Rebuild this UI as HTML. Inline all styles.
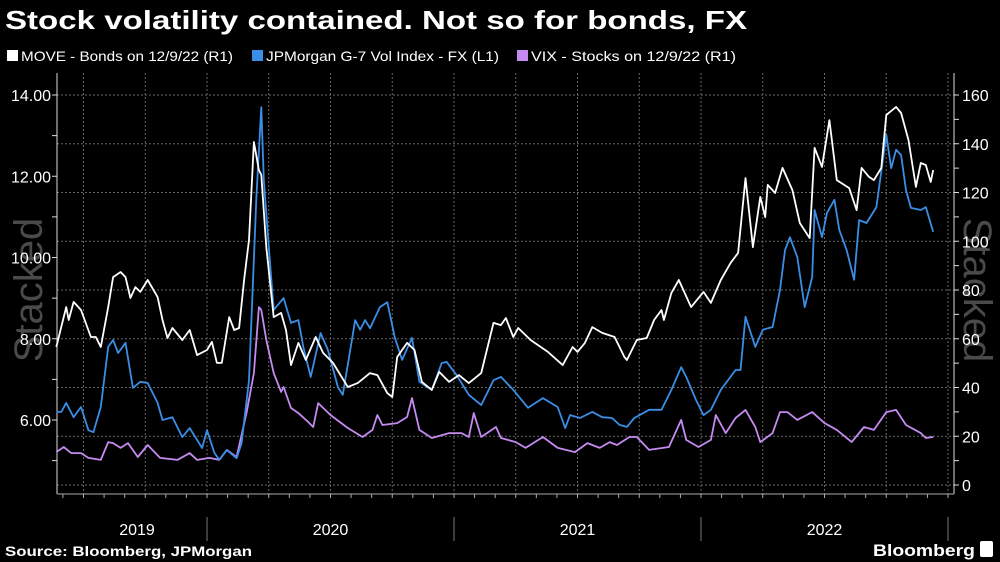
<!DOCTYPE html>
<html><head><meta charset="utf-8"><style>
html,body{margin:0;padding:0;background:#000;}
svg{display:block;font-family:"Liberation Sans",sans-serif;}
</style></head><body>
<svg id="chart" width="1000" height="562" viewBox="0 0 1000 562" xmlns="http://www.w3.org/2000/svg">
<rect x="0" y="0" width="1000" height="562" fill="#000"/>
<text x="5" y="29" fill="#fff" font-size="26" font-weight="bold" textLength="742" lengthAdjust="spacingAndGlyphs">Stock volatility contained. Not so for bonds, FX</text>
<g font-size="14" fill="#fff">
<g><rect x="7" y="50" width="11" height="11" fill="#fff"/><text x="21" y="61" textLength="212" lengthAdjust="spacingAndGlyphs">MOVE - Bonds on 12/9/22 (R1)</text></g>
<g><rect x="252" y="50" width="11" height="11" fill="#3a8ee6"/><text x="266" y="61" textLength="233" lengthAdjust="spacingAndGlyphs">JPMorgan G-7 Vol Index - FX (L1)</text></g>
<g><rect x="517" y="50" width="11" height="11" fill="#c58af0"/><text x="531" y="61" textLength="205" lengthAdjust="spacingAndGlyphs">VIX - Stocks on 12/9/22 (R1)</text></g>
</g>
<text transform="translate(42,290) rotate(-90)" text-anchor="middle" font-size="40" fill="#4a4a4a">Stacked</text>
<text transform="translate(964,290) rotate(90)" text-anchor="middle" font-size="40" fill="#4a4a4a">Stacked</text>
<g id="grid"></g>
<g id="axes"></g>
<g id="series"></g>
<text x="5" y="556" fill="#fff" font-size="14" font-weight="bold" textLength="247" lengthAdjust="spacingAndGlyphs">Source: Bloomberg, JPMorgan</text>
<text x="873" y="556" fill="#fff" font-size="17" font-weight="bold" textLength="102" lengthAdjust="spacingAndGlyphs">Bloomberg</text>
<rect x="980" y="541" width="13" height="16" rx="2" fill="#fff"/>
</svg>
<script>
const moveDates=[2019.39,2019.43,2019.44,2019.46,2019.49,2019.53,2019.55,2019.57,2019.60,2019.62,2019.65,2019.67,2019.69,2019.71,2019.73,2019.76,2019.80,2019.82,2019.84,2019.86,2019.90,2019.93,2019.96,2020.00,2020.02,2020.04,2020.06,2020.09,2020.11,2020.13,2020.15,2020.17,2020.19,2020.21,2020.22,2020.24,2020.27,2020.30,2020.32,2020.34,2020.37,2020.40,2020.44,2020.47,2020.51,2020.57,2020.61,2020.66,2020.69,2020.73,2020.75,2020.77,2020.81,2020.84,2020.87,2020.91,2020.94,2020.98,2021.02,2021.06,2021.11,2021.16,2021.19,2021.21,2021.24,2021.26,2021.31,2021.38,2021.44,2021.48,2021.50,2021.53,2021.56,2021.60,2021.65,2021.69,2021.70,2021.74,2021.78,2021.81,2021.84,2021.85,2021.88,2021.91,2021.96,2022.01,2022.04,2022.08,2022.12,2022.15,2022.18,2022.21,2022.24,2022.26,2022.27,2022.30,2022.33,2022.37,2022.40,2022.44,2022.46,2022.49,2022.52,2022.55,2022.60,2022.63,2022.65,2022.68,2022.70,2022.73,2022.75,2022.79,2022.81,2022.84,2022.87,2022.89,2022.91,2022.93,2022.94];
const moveValues=[56.6,73.0,67.7,75.1,71.8,60.7,60.7,56.6,73.0,85.3,87.4,85.3,76.7,81.2,79.2,84.1,77.1,67.7,60.3,64.4,59.5,63.6,53.3,55.4,58.7,50.1,50.1,68.9,63.6,64.4,84.1,100.5,140.7,129.2,127.2,97.6,68.9,70.6,63.6,49.2,58.3,51.3,60.7,54.2,50.1,40.2,41.8,45.9,45.1,37.7,36.1,52.5,58.3,55.4,42.3,39.0,46.4,42.3,45.1,41.8,45.9,66.5,65.6,68.5,60.7,64.4,59.5,54.6,49.2,56.6,54.6,58.3,64.8,62.4,60.7,52.5,51.3,59.5,60.3,67.7,71.8,67.7,78.8,84.1,73.0,79.2,74.7,84.1,91.1,95.2,125.9,97.6,118.2,109.9,123.1,119.8,130.1,121.0,107.5,101.3,138.3,130.5,149.7,125.1,121.8,112.8,130.1,126.4,125.1,130.1,151.8,155.1,152.6,141.5,122.3,132.1,131.3,124.3,129.2];
const fxDates=[2019.39,2019.41,2019.43,2019.46,2019.49,2019.52,2019.54,2019.57,2019.60,2019.62,2019.64,2019.67,2019.70,2019.73,2019.76,2019.80,2019.82,2019.86,2019.90,2019.93,2019.98,2020.00,2020.03,2020.05,2020.08,2020.12,2020.14,2020.17,2020.20,2020.22,2020.23,2020.25,2020.27,2020.31,2020.34,2020.37,2020.39,2020.42,2020.46,2020.49,2020.53,2020.55,2020.60,2020.62,2020.64,2020.66,2020.70,2020.73,2020.76,2020.79,2020.83,2020.86,2020.91,2020.95,2020.97,2021.01,2021.06,2021.11,2021.16,2021.19,2021.24,2021.30,2021.36,2021.42,2021.45,2021.47,2021.51,2021.56,2021.60,2021.64,2021.67,2021.70,2021.73,2021.79,2021.84,2021.88,2021.92,2021.94,2021.98,2022.01,2022.04,2022.08,2022.14,2022.16,2022.18,2022.22,2022.25,2022.29,2022.32,2022.34,2022.36,2022.39,2022.42,2022.45,2022.46,2022.49,2022.51,2022.54,2022.56,2022.59,2022.62,2022.64,2022.67,2022.71,2022.75,2022.77,2022.79,2022.81,2022.83,2022.85,2022.89,2022.91,2022.94];
const fxValues=[6.20,6.20,6.42,6.07,6.32,5.75,5.70,6.32,7.80,7.97,7.65,7.90,6.79,6.94,6.91,6.42,6.00,6.07,5.58,5.80,5.31,5.75,5.19,5.02,5.26,5.06,5.43,6.98,11.49,13.70,11.91,10.26,8.71,9.00,8.39,8.46,7.80,7.06,8.14,7.72,6.81,6.62,8.46,8.22,8.46,8.26,8.78,8.90,8.04,7.48,8.02,6.94,6.74,7.40,7.43,7.11,6.62,6.37,6.98,7.06,6.74,6.30,6.54,6.32,5.80,6.12,6.05,6.20,6.07,6.05,5.88,5.83,6.05,6.25,6.25,6.74,7.30,7.06,6.49,6.12,6.25,6.74,7.23,7.23,8.54,7.80,8.22,8.29,9.20,10.18,10.50,10.01,8.78,9.52,11.17,10.50,11.10,11.42,10.68,10.18,9.45,10.92,10.85,11.24,13.02,12.20,12.65,12.52,11.66,11.22,11.17,11.24,10.63];
const vixDates=[2019.39,2019.42,2019.45,2019.49,2019.52,2019.57,2019.60,2019.62,2019.65,2019.68,2019.72,2019.76,2019.81,2019.88,2019.93,2019.96,2020.01,2020.05,2020.08,2020.12,2020.16,2020.19,2020.21,2020.22,2020.24,2020.27,2020.30,2020.31,2020.34,2020.37,2020.41,2020.43,2020.45,2020.50,2020.57,2020.63,2020.67,2020.69,2020.71,2020.77,2020.81,2020.83,2020.86,2020.91,2020.98,2021.03,2021.06,2021.08,2021.11,2021.17,2021.19,2021.25,2021.29,2021.36,2021.42,2021.49,2021.54,2021.59,2021.63,2021.66,2021.71,2021.74,2021.79,2021.87,2021.92,2021.94,2021.99,2022.04,2022.06,2022.10,2022.14,2022.18,2022.22,2022.24,2022.29,2022.32,2022.35,2022.39,2022.45,2022.50,2022.55,2022.61,2022.66,2022.70,2022.75,2022.79,2022.83,2022.89,2022.91,2022.94];
const vixValues=[13.5,15.6,13.1,13.1,11.1,10.3,17.6,17.2,15.2,17.2,11.5,16.4,11.1,10.3,13.1,10.3,11.1,10.3,14.4,11.5,29.5,45.9,73.0,71.8,59.5,45.9,38.2,40.2,31.6,29.5,25.8,23.8,33.6,28.7,23.4,19.7,22.6,28.7,24.6,25.4,27.9,35.7,22.6,19.3,21.3,21.3,19.7,29.5,19.7,23.8,19.3,17.6,15.2,19.7,15.2,13.5,17.2,15.2,17.6,16.4,19.7,19.7,14.4,15.6,26.7,18.5,15.6,18.5,28.7,21.3,27.5,30.8,23.8,17.6,21.3,29.9,29.9,26.7,29.9,25.4,22.6,17.6,23.8,22.6,29.9,30.8,24.6,21.3,19.3,19.7];
const leftTicks=[6,8,10,12,14];
const leftTickLabels=["6.00","8.00","10.00","12.00","14.00"];
const rightTicks=[0,20,40,60,80,100,120,140,160];
const yearLabels=["2019","2020","2021","2022"];
const yearStarts=[2019,2020,2021,2022,2023];

const NS="http://www.w3.org/2000/svg";
const X0=57,X1=954,Y0=73,Y1=494;
function xScale(t){return 207+(t-2020)*247;}
function yLeft(v){return 95+(14-v)*40.625;}
function yRight(v){return 485-v*2.4375;}
function mk(tag,attrs,parent){const e=document.createElementNS(NS,tag);for(const k in attrs)e.setAttribute(k,attrs[k]);parent.appendChild(e);return e;}
const grid=document.getElementById('grid'),axes=document.getElementById('axes'),series=document.getElementById('series');

// horizontal grid (right axis, every 20)
rightTicks.forEach(v=>{const l=mk('line',{x1:X0,x2:X1,y1:yRight(v),y2:yRight(v),stroke:'#666','stroke-width':1,'stroke-dasharray':'2,2'},grid);

});
// vertical grid quarterly
for(let q=2019.5;q<=2023.001;q+=0.25){const x=xScale(q);if(x<X0||x>X1)continue;const l=mk('line',{x1:x,x2:x,y1:Y0,y2:Y1,stroke:'#666','stroke-width':1,'stroke-dasharray':'2,2'},grid);

}

// axes lines
mk('line',{x1:X0,x2:X0,y1:Y0,y2:Y1,stroke:'#ddd','stroke-width':1},axes);
mk('line',{x1:X1,x2:X1,y1:Y0,y2:Y1,stroke:'#ddd','stroke-width':1},axes);
mk('line',{x1:X0,x2:X1,y1:Y1,y2:Y1,stroke:'#aaa','stroke-width':1},axes);

// left ticks
for(let v=5;v<=14;v++){const y=yLeft(v);mk('line',{x1:X0-5,x2:X0,y1:y,y2:y,stroke:'#ddd'},axes);}
leftTicks.forEach((v,i)=>{const t=mk('text',{x:X0-6,y:yLeft(v)+6,fill:'#fff','font-size':16,'text-anchor':'end'},axes);t.textContent=leftTickLabels[i];

});
// right ticks
for(let v=0;v<=160;v+=10){const y=yRight(v);mk('line',{x1:X1,x2:X1+5,y1:y,y2:y,stroke:'#ddd'},axes);}
rightTicks.forEach(v=>{const t=mk('text',{x:X1+8,y:yRight(v)+6,fill:'#fff','font-size':16},axes);t.textContent=String(v);

});
// monthly ticks on x
for(let m=0;m<60;m++){const x=xScale(2019+m/12);if(x<X0||x>X1)continue;mk('line',{x1:x,x2:x,y1:Y1,y2:Y1+4,stroke:'#aaa'},axes);}
// year dividers and labels
yearStarts.forEach(yr=>{const x=xScale(yr);if(x<X0||x>X1)return;const l=mk('line',{x1:x,x2:x,y1:517,y2:541,stroke:'#777'},axes);

});
yearLabels.forEach((lab,i)=>{const a=Math.max(X0,xScale(yearStarts[i])),b=xScale(yearStarts[i+1]);const t=mk('text',{x:i==0?137:(a+b)/2,y:535,fill:'#fff','font-size':16,'text-anchor':'middle'},axes);t.textContent=lab;

});

function line(dates,vals,yf,color,name){const d=dates.map((t,i)=>(i?'L':'M')+xScale(t).toFixed(1)+','+yf(vals[i]).toFixed(1)).join('');
const p=mk('path',{d:d,fill:'none',stroke:color,'stroke-width':1.8,'stroke-linejoin':'round'},series);

}
line(vixDates,vixValues,yRight,'#c58af0','vix-line');
line(fxDates,fxValues,yLeft,'#3a8ee6','fx-vol-line');
line(moveDates,moveValues,yRight,'#ffffff','move-line');
</script>
</body></html>
